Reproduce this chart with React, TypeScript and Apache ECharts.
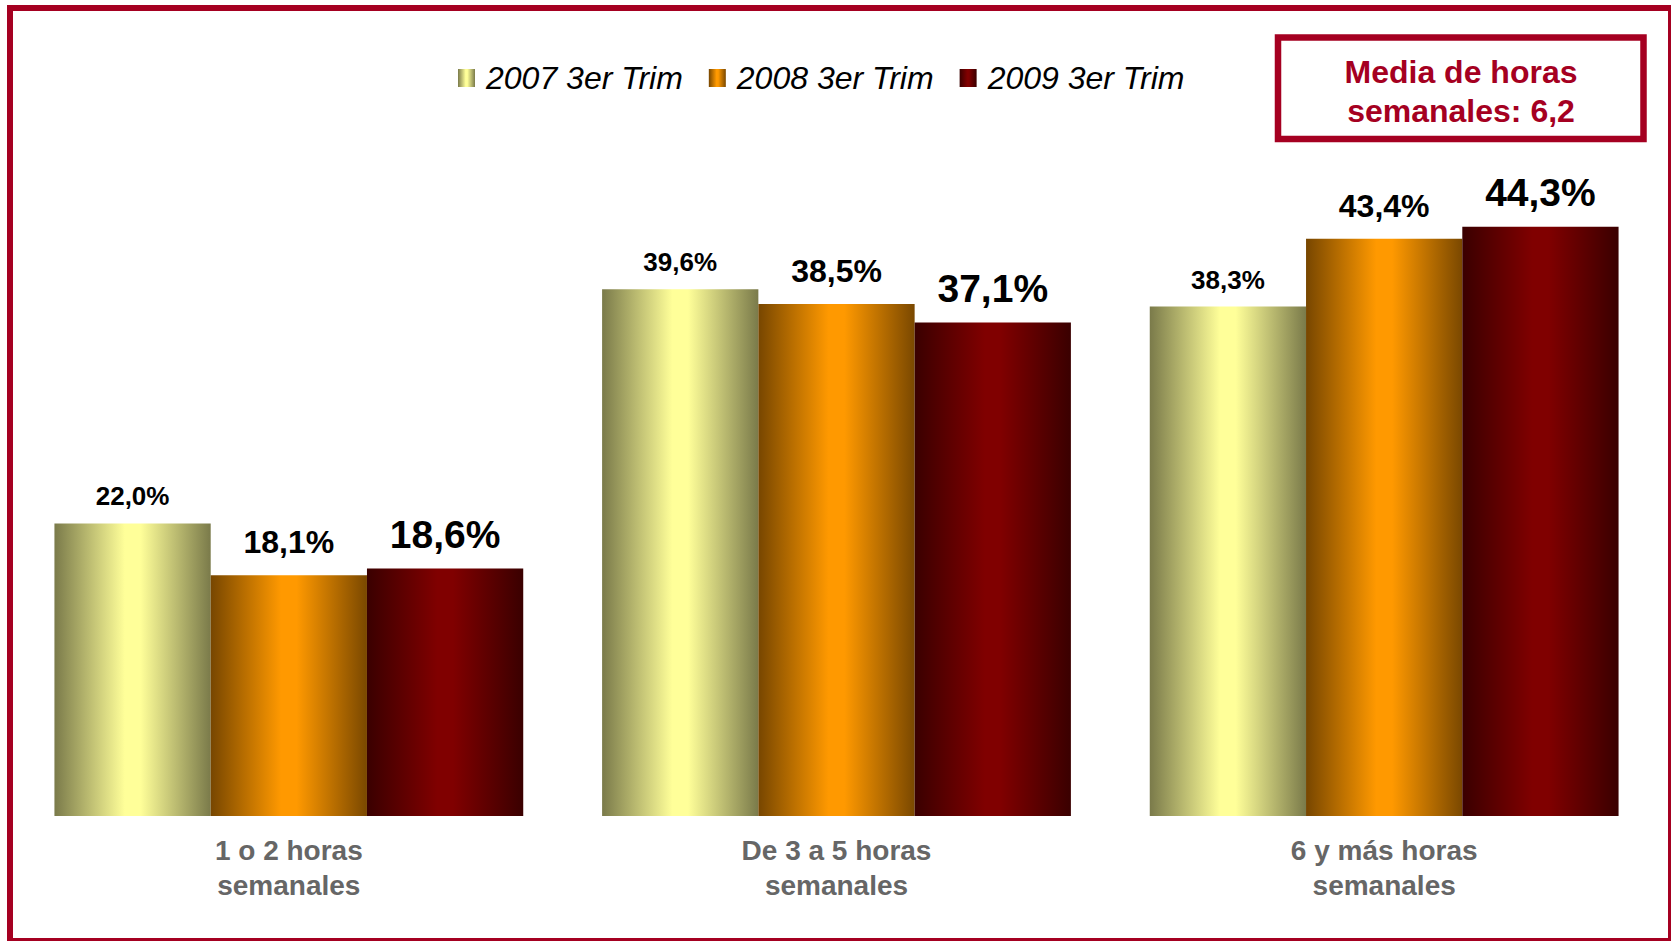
import React, { useEffect, useRef } from "react";
import * as echarts from "echarts";

const categories = ["1 o 2 horas\nsemanales", "De 3 a 5 horas\nsemanales", "6 y más horas\nsemanales"];
const seriesNames = ["2007 3er Trim", "2008 3er Trim", "2009 3er Trim"];
const values2007 = [22.0, 39.6, 38.3];
const values2008 = [18.1, 38.5, 43.4];
const values2009 = [18.6, 37.1, 44.3];
const boxText = "Media de horas\nsemanales: 6,2";

const FONT = "Arial, 'Liberation Sans', Helvetica, sans-serif";
const RED = "#A50021";

function grad(edgeL: string, center: string, edgeR: string) {
  return new echarts.graphic.LinearGradient(0, 0, 1, 0, [
    { offset: 0, color: edgeL },
    { offset: 0.45, color: center },
    { offset: 0.55, color: center },
    { offset: 1, color: edgeR },
  ]);
}

const fmt = (p: any) => Number(p.value).toFixed(1).replace(".", ",") + "%";

export default function App() {
  const ref = useRef<HTMLDivElement>(null);
  useEffect(() => {
    document.body.style.margin = "0";
    if (!ref.current) return;
    const chart = echarts.init(ref.current, null, { renderer: "svg" });
    const seriesData = [values2007, values2008, values2009];
    const colors = [
      grad("#7a7a4a", "#ffff99", "#7a7a4a"),
      grad("#774600", "#ff9900", "#7a4800"),
      grad("#3a0000", "#800000", "#3a0000"),
    ];
    const labelSizes = [26, 32, 39];
    const labelDist = [14, 17, 15];
    chart.setOption({
      animation: false,
      backgroundColor: "#ffffff",
      grid: { left: 15, right: 13, top: 151, bottom: 125, containLabel: false },
      legend: {
        left: 458,
        top: 62,
        padding: 0,
        itemWidth: 17,
        itemHeight: 18,
        itemGap: 26,
        icon: "rect",
        textStyle: {
          fontFamily: FONT,
          fontSize: 32,
          fontStyle: "italic",
          color: "#000000",
          padding: [0, 0, 0, 6],
        },
        data: seriesNames,
      },
      xAxis: {
        type: "category",
        data: categories,
        axisLine: { show: false },
        axisTick: { show: false },
        axisLabel: {
          fontFamily: FONT,
          fontSize: 28,
          fontWeight: "bold",
          color: "#666666",
          lineHeight: 35,
          margin: 17,
        },
      },
      yAxis: { type: "value", min: 0, max: 50, show: false },
      series: seriesNames.map((name, i) => ({
        name,
        type: "bar",
        data: seriesData[i],
        barGap: "0%",
        barCategoryGap: "14.4%",
        itemStyle: { color: colors[i] },
        label: {
          show: true,
          position: "top",
          distance: labelDist[i],
          formatter: fmt,
          fontFamily: FONT,
          fontSize: labelSizes[i],
          fontWeight: "bold",
          color: "#000000",
        },
      })),
      graphic: [
        {
          type: "rect",
          shape: { x: 10, y: 8, width: 1661, height: 933 },
          style: { fill: "none", stroke: RED, lineWidth: 6 },
          silent: true,
          z: 100,
        },
        {
          type: "rect",
          shape: { x: 1278, y: 37.5, width: 365.5, height: 101.5 },
          style: { fill: "#ffffff", stroke: RED, lineWidth: 6.5 },
          silent: true,
          z: 100,
        },
        {
          type: "text",
          x: 1461,
          y: 91,
          style: {
            text: boxText,
            fill: RED,
            fontFamily: FONT,
            fontSize: 32,
            fontWeight: "bold",
            lineHeight: 39,
            align: "center",
            verticalAlign: "middle",
          },
          silent: true,
          z: 101,
        },
      ],
    });
    return () => chart.dispose();
  }, []);
  return <div ref={ref} style={{ width: 1671, height: 941 }} />;
}
